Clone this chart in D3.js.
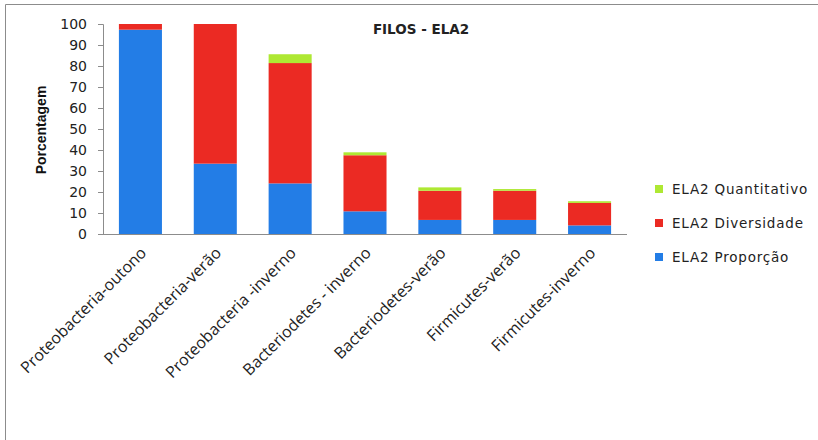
<!DOCTYPE html>
<html><head><meta charset="utf-8">
<script src="https://cdn.jsdelivr.net/npm/d3@7"></script>
<style>body{margin:0;background:#fff}svg{display:block}</style>
</head><body>
<svg id="c" width="818" height="440"></svg>
<script>
const categories = ["Proteobacteria-outono","Proteobacteria-verão","Proteobacteria -inverno","Bacteriodetes - inverno","Bacteriodetes-verão","Firmicutes-verão","Firmicutes-inverno"];
const proporcao = [97.3, 33.5, 24.1, 10.8, 6.7, 6.7, 4.1];
const diversidade = [2.7, 66.5, 57.3, 26.7, 13.9, 13.9, 10.7];
const quantitativo = [0, 0, 4.2, 1.4, 1.6, 0.8, 0.8];
const seriesNames = ["ELA2 Proporção","ELA2 Diversidade","ELA2 Quantitativo"];
const seriesColors = ["#237de6","#eb2a23","#aee833"];
const yTicks = [0,10,20,30,40,50,60,70,80,90,100];

const svg = d3.select("#c");
// chart frame
svg.append("path").attr("d","M5.5,440 V4.5 H818").attr("fill","none").attr("stroke","#8c8c8c").attr("stroke-width",1);

const x = d3.scaleBand().domain(categories).range([103,627]).paddingInner(0.425).paddingOuter(0.2125);
const y = d3.scaleLinear().domain([0,100]).range([234,24]);

const table = categories.map((c,i)=>({cat:c, "ELA2 Proporção":proporcao[i], "ELA2 Diversidade":diversidade[i], "ELA2 Quantitativo":quantitativo[i]}));
const stacked = d3.stack().keys(seriesNames)(table);

stacked.forEach((s,si)=>{
  svg.append("g").selectAll("rect").data(s).join("rect")
    .attr("x", d=>x(d.data.cat))
    .attr("width", x.bandwidth())
    .attr("y", d=>y(d[1]))
    .attr("height", d=>Math.max(0,y(d[0])-y(d[1])))
    .attr("fill", seriesColors[si]);
});

// y axis
const yAxis = d3.axisLeft(y).tickValues(yTicks).tickSize(5).tickPadding(11);
const gy = svg.append("g").attr("transform","translate(103,0)").call(yAxis);
gy.select(".domain").attr("stroke","#8c8c8c");
gy.selectAll(".tick line").attr("stroke","#8c8c8c");
gy.selectAll("text").attr("font-family","DejaVu Sans").attr("font-size",14).attr("fill","#222");

// x axis
const gx = svg.append("g").attr("transform","translate(0,234)").call(d3.axisBottom(x).tickSize(0).tickFormat(""));
gx.select(".domain").attr("stroke","#8c8c8c").attr("d","M103,0.5H627");
gx.selectAll(".tick").each(function(d){
  d3.select(this).append("text")
    .attr("transform","translate(7,20) rotate(-45)")
    .attr("text-anchor","end")
    .attr("font-family","Open Sans").attr("font-size",16).attr("fill","#222")
    .text(d);
});

// title
svg.append("text").attr("x",421).attr("y",34).attr("text-anchor","middle")
  .attr("font-family","DejaVu Sans").attr("font-weight","bold").attr("font-size",13.5).attr("fill","#222")
  .text("FILOS - ELA2");

// y title
svg.append("text").attr("transform","translate(46,130) rotate(-90)").attr("text-anchor","middle")
  .attr("font-family","Liberation Sans").attr("font-weight","bold").attr("font-size",14).attr("fill","#111")
  .text("Porcentagem");

// legend
const legendOrder = [2,1,0];
const lg = svg.append("g");
legendOrder.forEach((si,k)=>{
  const cy = 189 + k*34;
  lg.append("rect").attr("x",655).attr("y",cy-4).attr("width",8).attr("height",8).attr("fill",seriesColors[si]);
  lg.append("text").attr("x",672).attr("y",cy+5).attr("font-family","DejaVu Sans").attr("font-size",13.5)
    .attr("letter-spacing",0.8).attr("fill","#222").text(seriesNames[si]);
});
</script>
</body></html>
